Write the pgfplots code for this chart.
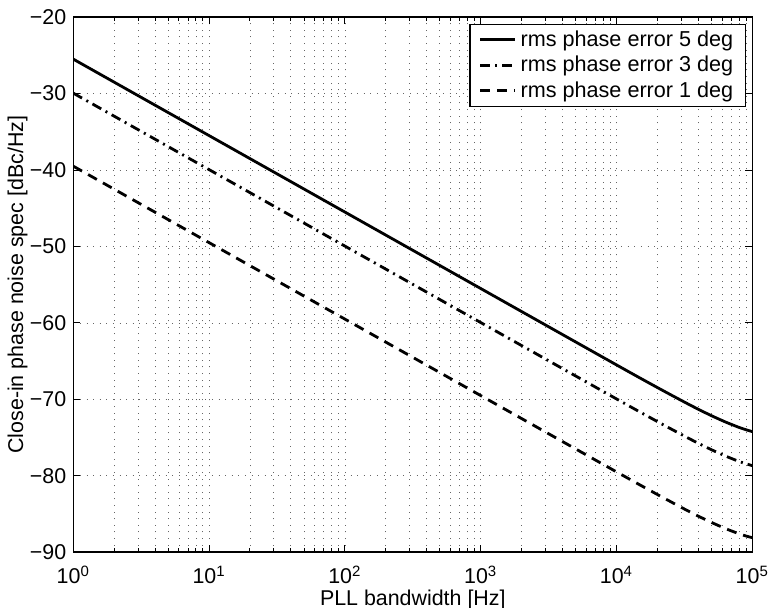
\documentclass[border=0pt]{standalone}
\usepackage{pgfplots}
\pgfplotsset{compat=1.18}
\usepackage{fontspec}
\setmainfont{Liberation Sans}
\begin{document}
\begin{tikzpicture}
\begin{axis}[name=ax, at={(0,0)}, anchor=south west,
  xmode=log, scale only axis, width=339.5pt, height=267.6pt,
  xmin=1, xmax=100000, ymin=-90, ymax=-20,
  xtick={1,10,100,1000,10000,100000},
  xticklabels={{10\textsuperscript{0}},{10\textsuperscript{1}},{10\textsuperscript{2}},{10\textsuperscript{3}},{10\textsuperscript{4}},{10\textsuperscript{5}}},
  ytick={-90,-80,-70,-60,-50,-40,-30,-20},
  yticklabels={−90,−80,−70,−60,−50,−40,−30,−20},
  font=\fontsize{10.7}{12.5}\selectfont,
  tick label style={font=\fontsize{10.7}{12.5}\selectfont},
  xticklabel style={anchor=base, yshift=-15.85pt},
  yticklabel style={anchor=east, xshift=0pt},
  tick align=inside,
  major tick length=3.5pt, minor tick length=2pt,
  every tick/.style={black, line width=0.5pt},
  axis line style={line width=0.8pt},
  grid=both,
  major grid style={black!60, line width=0.4pt, dash pattern=on 0.5pt off 2.8pt},
  minor grid style={black!60, line width=0.4pt, dash pattern=on 0.5pt off 2.8pt},
  xlabel={PLL bandwidth [Hz]},
  ylabel={Close-in phase noise spec [dBc/Hz]},
  xlabel style={at={(axis description cs:0.5,-0.0987)}, anchor=base},
  ylabel style={at={(axis description cs:-0.0822,0.5)}, anchor=center},
  legend style={at={(axis description cs:0.991,0.988)}, anchor=north east, draw=black, line width=0.6pt, fill=white,
    font=\fontsize{10.8}{12.5}\selectfont, inner xsep=4.2pt, inner ysep=1.2pt, row sep=-0.6pt,
    /tikz/every even column/.append style={column sep=0pt}},
  legend cell align=left,
  legend image code/.code={\draw[#1, line width=1.6pt] (0pt,0pt) -- (17.5pt,0pt);},
]
\addplot[black, line width=1.4pt, smooth, tension=0.5] coordinates {
(1,-25.5) (10,-35.5) (100,-45.5) (1000,-55.5) (10000,-65.49) (19953,-68.44) (31623,-70.35) (39811,-71.27)
(50119,-72.14) (63096,-72.94) (70795,-73.3) (79433,-73.65) (89125,-73.95) (100000,-74.22)};
\addlegendentry{rms phase error 5 deg}
\addplot[black, line width=1.4pt, smooth, tension=0.5, dash pattern=on 5pt off 2.5pt on 1pt off 2.5pt] coordinates {
(1,-29.95) (10,-39.95) (100,-49.95) (1000,-59.95) (10000,-69.94) (19953,-72.89) (31623,-74.8) (39811,-75.72)
(50119,-76.59) (63096,-77.39) (70795,-77.75) (79433,-78.1) (89125,-78.4) (100000,-78.67)};
\addlegendentry{rms phase error 3 deg}
\addplot[black, line width=1.4pt, smooth, tension=0.5, dash pattern=on 5pt off 3.5pt] coordinates {
(1,-39.5) (10,-49.5) (100,-59.5) (1000,-69.5) (10000,-79.48) (19953,-82.43) (31623,-84.34) (39811,-85.25)
(50119,-86.1) (63096,-86.88) (70795,-87.23) (79433,-87.56) (89125,-87.85) (100000,-88.09)};
\addlegendentry{rms phase error 1 deg}
\end{axis}
\pgfresetboundingbox
\path[use as bounding box] (ax.south west) ++(-36.65pt,-27.85pt) rectangle ++(384.5pt,304pt);
\end{tikzpicture}
\end{document}
